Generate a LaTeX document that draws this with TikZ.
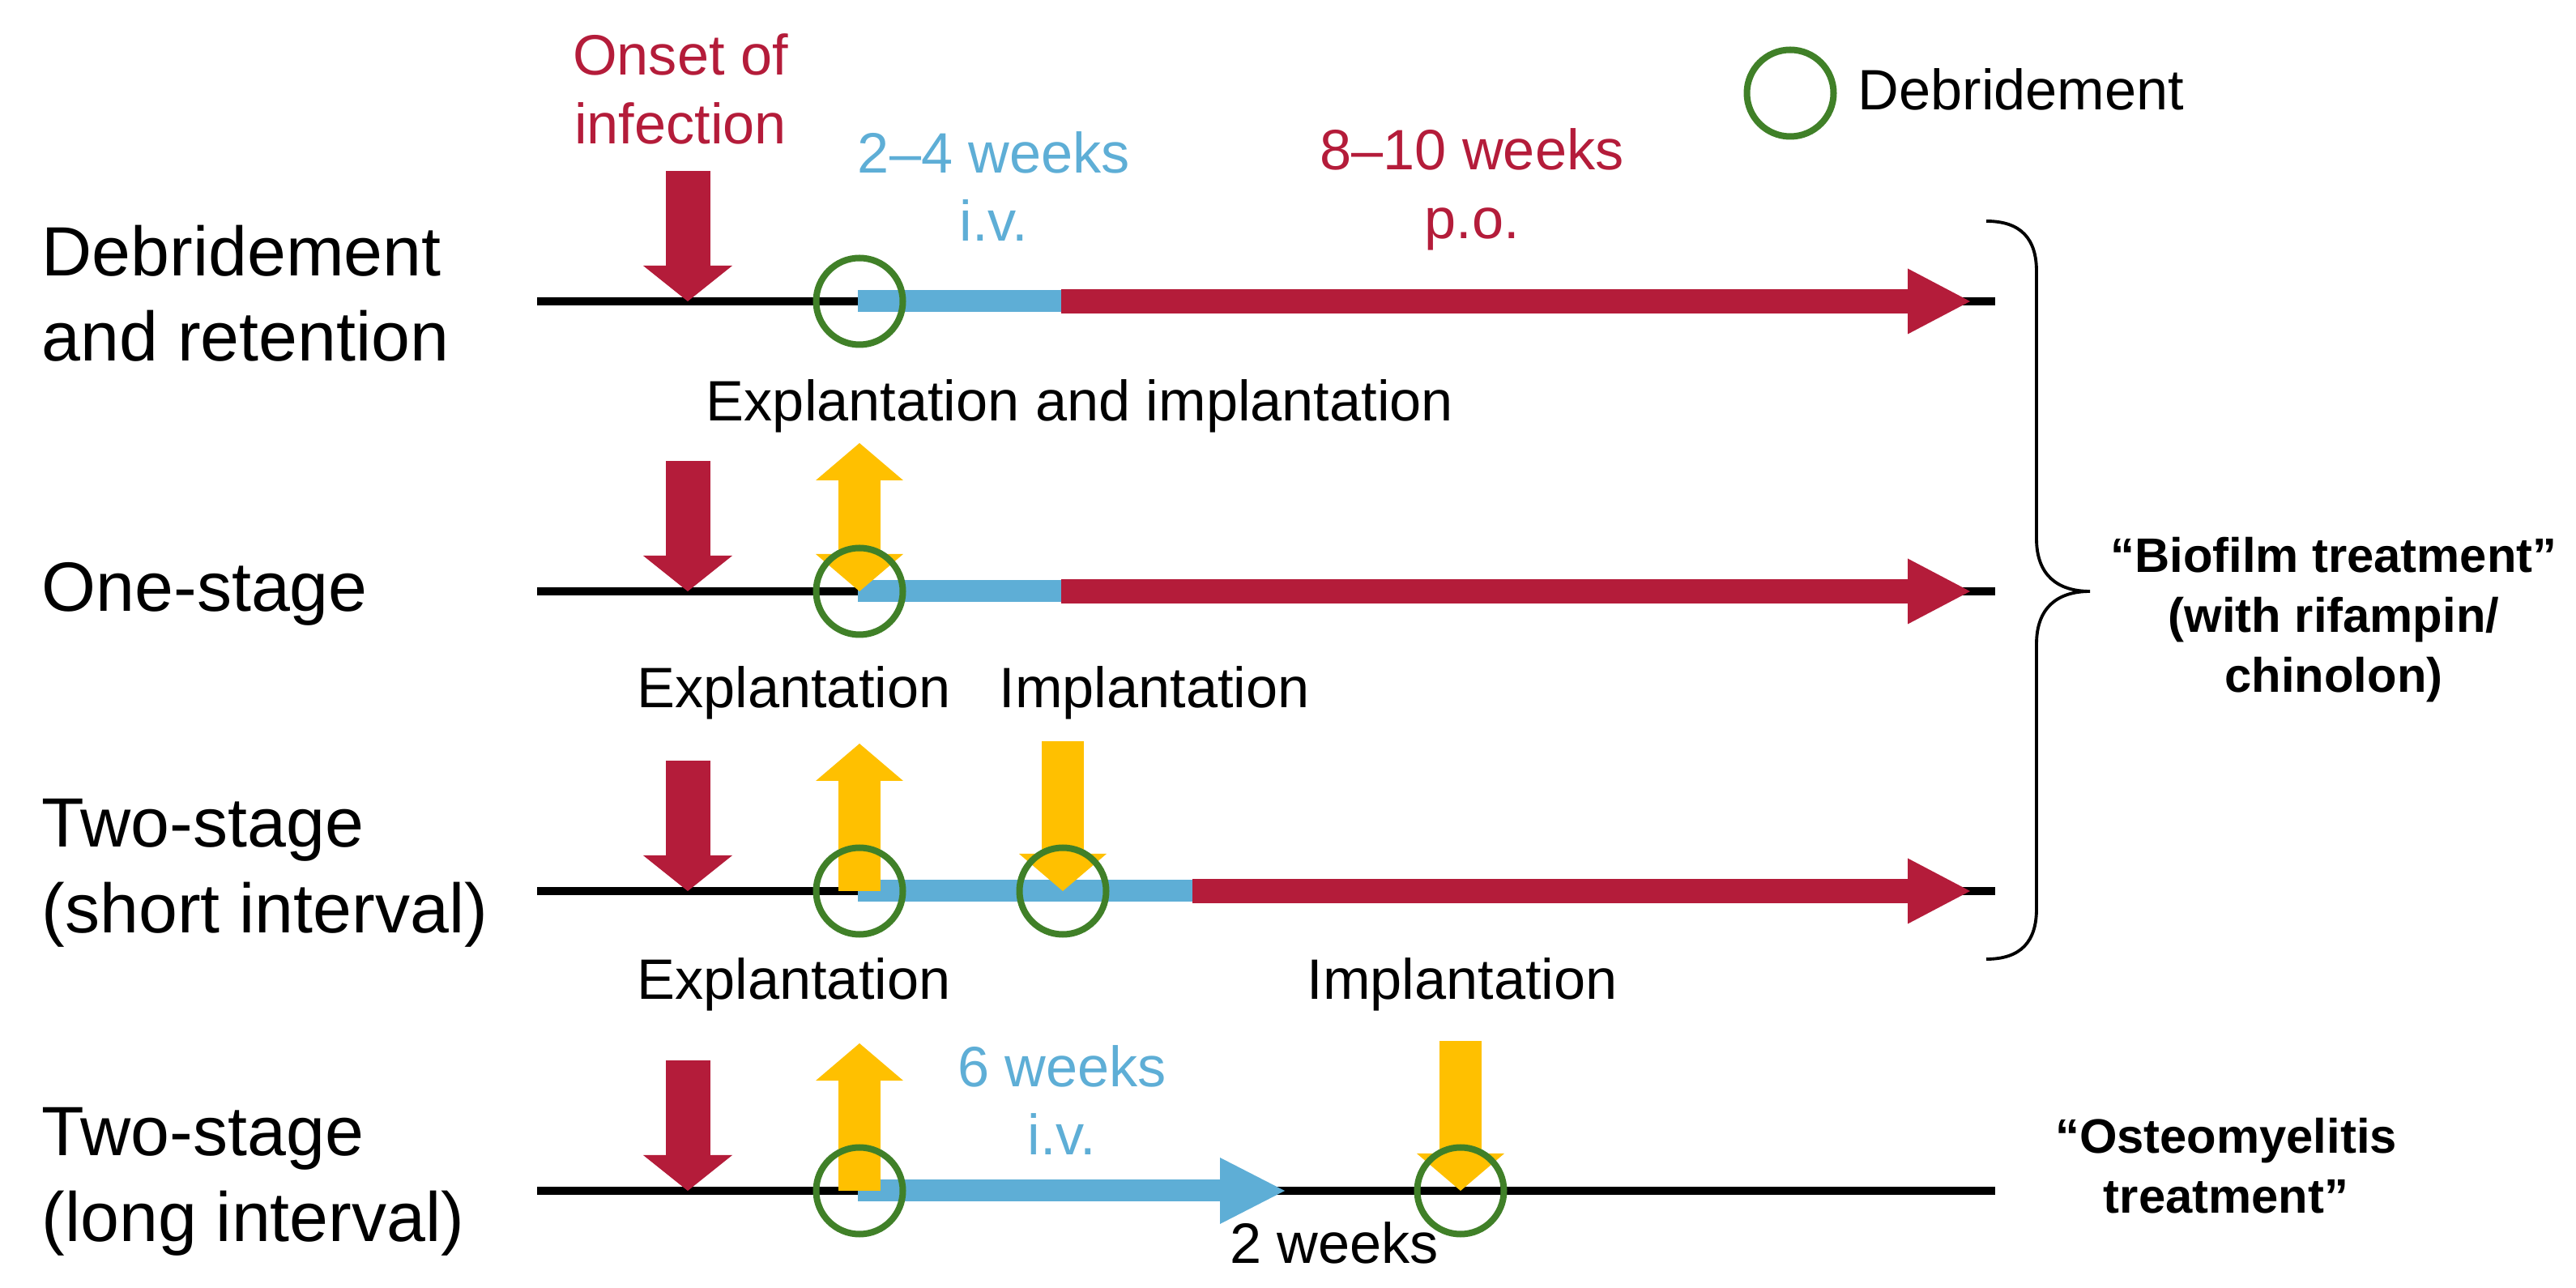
\documentclass[tikz,border=0pt]{standalone}
\usepackage{fontspec}
\setmainfont{Liberation Sans}
\usetikzlibrary{arrows.meta, calc}

\definecolor{pored}{RGB}{180,28,58}
\definecolor{ivblue}{RGB}{94,174,214}
\definecolor{surggold}{RGB}{255,192,0}
\definecolor{debrgreen}{RGB}{64,128,40}

\tikzset{
	potip/.tip={Triangle[width=0.81cm,length=0.77cm,line width=0pt]},
	ivtip/.tip={Triangle[width=0.82cm,length=0.80cm,line width=0pt]},
	onsettip/.tip={Triangle[width=1.10cm,length=0.44cm,line width=0pt]},
	surgtip/.tip={Triangle[width=1.08cm,length=0.46cm,line width=0pt]},
}

\begin{document}
\begin{tikzpicture}[
	timeline/.style={line width=2.85pt, black},
	ivbar/.style={line width=0.27cm, ivblue},
	ivarrow/.style={ivbar, -ivtip},
	poarrow/.style={line width=0.30cm, pored, -potip},
	onset/.style={line width=0.55cm, pored, -onsettip},
	surg/.style={line width=0.52cm, surggold, -surgtip},
	debr/.style={circle, draw=debrgreen, line width=0.08cm, minimum size=1.07cm, inner sep=0pt},
	rowlabel/.style={anchor=west, align=left, inner sep=0pt, font=\fontsize{24.5}{30}\selectfont},
	note/.style={align=center, inner sep=0pt, font=\fontsize{20}{24}\selectfont},
	verdict/.style={align=center, inner sep=0pt, font=\fontsize{17}{21}\selectfont\bfseries}]
	
	\useasboundingbox (0,0) rectangle (31.8,15.9);
	
	%========================
	% legend
	%========================
	\node[debr] (legcirc) at (22.10,14.75) {};
	\node[note, anchor=west] (legtext) at (22.93,14.80) {Debridement};
	
	%========================
	% Row 1: debridement and retention
	%========================
	\begin{scope}[shift={(0,12.18)}]
		\node[rowlabel] (lblDR) at (0.51,0.10) {Debridement\\and retention};
		\node[note, text=pored] (onsettext) at (8.40,2.62) {Onset of\\infection};
		\node[note, text=ivblue] (ivA) at (12.27,1.42) {2–4 weeks\\i.v.};
		\node[note, text=pored] (poA) at (18.17,1.38) {8–10 weeks\\p.o.};
		% axis
		\coordinate (dr-s) at (6.63,0);
		\coordinate (dr-e) at (24.63,0);
		\draw[timeline] (dr-s) -- (dr-e);
		% therapy
		\coordinate (dr-iv) at (10.59,0);
		\coordinate (dr-po) at (13.10,0);
		\coordinate (dr-end) at (24.32,0);
		\draw[ivbar] (dr-iv) -- (dr-po);
		\draw[poarrow] (dr-po) -- (dr-end);
		% onset
		\coordinate (dr-on) at (8.49,1.61);
		\coordinate (dr-ot) at (8.49,0);
		\draw[onset] (dr-on) -- (dr-ot);
		\node[debr] (dr-deb) at (10.61,0) {};
	\end{scope}
	
	%========================
	% Row 2: one-stage exchange
	%========================
	\begin{scope}[shift={(0,8.60)}]
		\node[rowlabel] (lblOne) at (0.51,-0.03) {One-stage};
		\node[note] (exim) at (13.33,2.29) {Explantation and implantation};
		\coordinate (one-s) at (6.63,0);
		\coordinate (one-e) at (24.63,0);
		\draw[timeline] (one-s) -- (one-e);
		\coordinate (one-iv) at (10.59,0);
		\coordinate (one-po) at (13.10,0);
		\coordinate (one-end) at (24.32,0);
		\draw[ivbar] (one-iv) -- (one-po);
		\draw[poarrow] (one-po) -- (one-end);
		\coordinate (one-on) at (8.49,1.61);
		\coordinate (one-ot) at (8.49,0);
		\draw[onset] (one-on) -- (one-ot);
		% explantation + implantation in one go
		\coordinate (one-xb) at (10.61,0);
		\coordinate (one-xt) at (10.61,1.83);
		\draw[surg, surgtip-surgtip] (one-xb) -- (one-xt);
		\node[debr] (one-deb) at (10.61,0) {};
	\end{scope}
	
	%========================
	% Row 3: two-stage, short interval
	%========================
	\begin{scope}[shift={(0,4.90)}]
		\node[rowlabel] (lblShort) at (0.51,0.22) {Two-stage\\(short interval)};
		\node[note] (sh-exp) at (9.80,2.45) {Explantation};
		\node[note] (sh-imp) at (14.25,2.45) {Implantation};
		\coordinate (sh-s) at (6.63,0);
		\coordinate (sh-e) at (24.63,0);
		\draw[timeline] (sh-s) -- (sh-e);
		\coordinate (sh-iv) at (10.59,0);
		\coordinate (sh-po) at (14.72,0);
		\coordinate (sh-end) at (24.32,0);
		\draw[ivbar] (sh-iv) -- (sh-po);
		\draw[poarrow] (sh-po) -- (sh-end);
		\coordinate (sh-on) at (8.49,1.61);
		\coordinate (sh-ot) at (8.49,0);
		\draw[onset] (sh-on) -- (sh-ot);
		\coordinate (sh-xb) at (10.61,0);
		\coordinate (sh-xt) at (10.61,1.82);
		\draw[surg] (sh-xb) -- (sh-xt);
		\coordinate (sh-it) at (13.12,1.85);
		\coordinate (sh-ib) at (13.12,0);
		\draw[surg] (sh-it) -- (sh-ib);
		\node[debr] (sh-deb1) at (10.61,0) {};
		\node[debr] (sh-deb2) at (13.12,0) {};
	\end{scope}
	
	%========================
	% Row 4: two-stage, long interval
	%========================
	\begin{scope}[shift={(0,1.20)}]
		\node[rowlabel] (lblLong) at (0.51,0.11) {Two-stage\\(long interval)};
		\node[note] (lg-exp) at (9.80,2.55) {Explantation};
		\node[note] (lg-imp) at (18.05,2.55) {Implantation};
		\node[note, text=ivblue] (ivB) at (13.11,1.12) {6 weeks\\i.v.};
		\node[note] (gap) at (16.47,-0.64) {2 weeks};
		\coordinate (lg-s) at (6.63,0);
		\coordinate (lg-e) at (24.63,0);
		\draw[timeline] (lg-s) -- (lg-e);
		\coordinate (lg-iv) at (10.59,0);
		\coordinate (lg-ive) at (15.86,0);
		\draw[ivarrow] (lg-iv) -- (lg-ive);
		\coordinate (lg-on) at (8.49,1.61);
		\coordinate (lg-ot) at (8.49,0);
		\draw[onset] (lg-on) -- (lg-ot);
		\coordinate (lg-xb) at (10.61,0);
		\coordinate (lg-xt) at (10.61,1.82);
		\draw[surg] (lg-xb) -- (lg-xt);
		\coordinate (lg-it) at (18.03,1.85);
		\coordinate (lg-ib) at (18.03,0);
		\draw[surg] (lg-it) -- (lg-ib);
		\node[debr] (lg-deb1) at (10.61,0) {};
		\node[debr] (lg-deb2) at (18.03,0) {};
		\node[verdict] (osteo) at (27.48,0.31) {“Osteomyelitis\\treatment”};
	\end{scope}
	
	%========================
	% brace over rows 1--3
	%========================
	\coordinate (br-top) at (24.52,13.17);
	\coordinate (br-tip) at (25.80,8.60);
	\coordinate (br-bot) at (24.52,4.06);
	\draw[line width=1.1pt] (br-top) .. controls (24.95,13.17) and (25.14,12.95) .. (25.14,12.55)
		-- (25.14,9.25) .. controls (25.14,8.80) and (25.40,8.60) .. (br-tip)
		.. controls (25.40,8.60) and (25.14,8.40) .. (25.14,7.95)
		-- (25.14,4.68) .. controls (25.14,4.28) and (24.95,4.06) .. (br-bot);
	\node[verdict] (biofilm) at (28.81,8.25) {“Biofilm treatment”\\(with rifampin/\\chinolon)};
	
\end{tikzpicture}
\end{document}
